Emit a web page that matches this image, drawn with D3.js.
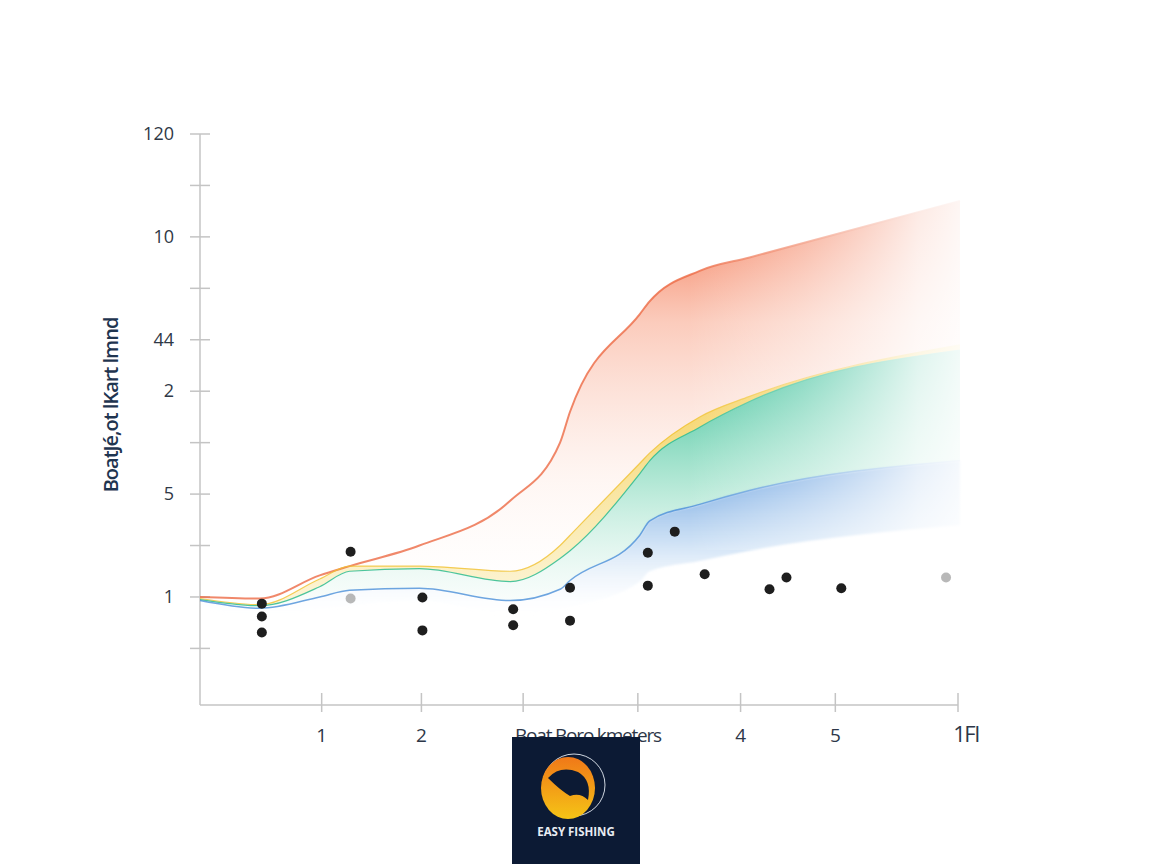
<!DOCTYPE html><html><head><meta charset="utf-8"><script src="https://cdn.jsdelivr.net/npm/d3@7"></script>
<style>body{margin:0;background:#fff}svg{display:block}</style></head><body><svg id="c" width="1152" height="864"></svg>
<script>
const yTickVals=[1,2,3,4,5,6,7,8,9,10,11];
const yTickLabels=["","1","","5","","2","44","","10","","120"];
const xTickVals=[1.22,2.22,3.24,4.39,5.42,6.37,7.6];
const xTickLabels=["1","2","","","4","5","1FI"];
const curveX=[0,0.6,1.2,1.5,2.2,3.11,3.61,3.71,4.41,4.51,5.01,5.51,7.62];
const redTop=[2.0,1.97,2.42,2.6,3.0,3.87,5.0,5.6,7.5,7.75,8.34,8.6,9.7];
const yellowTop=[1.97,1.85,2.35,2.6,2.6,2.5,3.0,3.2,4.6,4.8,5.5,5.9,6.9];
const greenTop=[1.95,1.83,2.2,2.5,2.55,2.3,2.75,2.9,4.4,4.65,5.3,5.8,6.8];
const blueTop=[1.93,1.78,2.0,2.13,2.17,1.93,2.15,2.32,3.2,3.48,3.8,4.07,4.65];
const blueBottom=[1.85,1.54,1.75,1.83,1.93,1.65,1.75,1.8,2.3,2.5,2.7,2.9,3.4];
const ptsX=[0.62,0.62,0.62,1.51,1.51,2.23,2.23,3.14,3.14,3.71,3.71,4.49,4.49,4.76,5.06,5.71,5.88,6.43,7.48];
const ptsY=[1.87,1.62,1.31,2.88,1.97,1.99,1.35,1.76,1.45,2.18,1.54,2.86,2.22,3.27,2.44,2.15,2.38,2.17,2.38];
const ptsFaint=[0,0,0,0,1,0,0,0,0,0,0,0,0,0,0,0,0,0,1];

const svg=d3.select("#c");
const x=d3.scaleLinear().domain([0,7.6]).range([200,958]);
const y=d3.scaleLinear().domain([-0.1,11]).range([705,134]);
const defs=svg.append("defs");
function vgrad(id,stops){const g=defs.append("linearGradient").attr("id",id).attr("x1",0).attr("y1",0).attr("x2",0).attr("y2",1);stops.forEach(s=>g.append("stop").attr("offset",s[0]).attr("stop-color",s[1]).attr("stop-opacity",s[2]));}
vgrad("gRed",[[0,"#f06238",0.95],[0.3,"#f8a185",0.55],[0.7,"#fde3d9",0.3],[1,"#ffffff",0.1]]);
vgrad("gYel",[[0,"#f2c230",0.9],[1,"#f7de7a",0.3]]);
vgrad("gGreen",[[0,"#14b386",0.95],[0.5,"#6fd3b0",0.55],[1,"#e8f7f1",0.2]]);
vgrad("gBlue",[[0,"#3a82d6",0.85],[0.5,"#8fbbe9",0.45],[1,"#ffffff",0]]);
const hm=defs.append("linearGradient").attr("id","hm").attr("x1",0).attr("x2",1).attr("y1",0).attr("y2",0);
[[0,0],[0.4,0.4],[0.8,0.85],[1,0.97]].forEach(s=>hm.append("stop").attr("offset",s[0]).attr("stop-color","#fff").attr("stop-opacity",s[1]));
defs.append("filter").attr("id","blur").append("feGaussianBlur").attr("stdDeviation",1.2);

// axes
const ax=svg.append("g").attr("stroke","#c4c4c4").attr("stroke-width",1.5);
ax.append("line").attr("x1",200).attr("x2",200).attr("y1",134).attr("y2",705);
yTickVals.forEach(v=>ax.append("line").attr("x1",190).attr("x2",210).attr("y1",y(v)).attr("y2",y(v)));
yTickVals.forEach((v,i)=>svg.append("text").attr("x",174).attr("y",y(v)+6).attr("text-anchor","end").attr("font-family","Open Sans").attr("font-size",18).attr("fill","#2f3846").text(yTickLabels[i]));
svg.append("text").attr("transform","translate(118,405) rotate(-90)").attr("text-anchor","middle").attr("font-family","Open Sans").attr("font-weight",600).attr("font-size",20).attr("letter-spacing",-1).attr("fill","#1f3550").text("BoatJé,ot lKart lmnd");

// areas
const g=svg.append("g");
function area(top,bot,fill,f){const p=g.append("path").attr("d",d3.area().curve(d3.curveMonotoneX).x((d,i)=>x(curveX[i])).y0((d,i)=>y(bot[i])).y1((d,i)=>y(top[i]))(curveX)).attr("fill",fill);if(f)p.attr("filter","url(#blur)");}
function line(arr,col,w){g.append("path").attr("d",d3.line().curve(d3.curveMonotoneX).x((d,i)=>x(curveX[i])).y((d,i)=>y(arr[i]))(curveX)).attr("fill","none").attr("stroke",col).attr("stroke-width",w).attr("stroke-opacity",0.8);}
area(redTop,yellowTop,"url(#gRed)");
area(yellowTop,greenTop,"url(#gYel)");
area(greenTop,blueTop,"url(#gGreen)");
area(blueTop,blueBottom,"url(#gBlue)",true);
line(redTop,"#ec6a45",2);line(yellowTop,"#f0c030",1.2);line(greenTop,"#22b889",1.2);line(blueTop,"#4a8fd8",1.5);
// fade overlay on the right
svg.append("rect").attr("x",x(4.9)).attr("y",150).attr("width",975-x(4.9)).attr("height",400).attr("fill","url(#hm)");

const ax2=svg.append("g").attr("stroke","#c4c4c4").attr("stroke-width",1.5);
ax2.append("line").attr("x1",200).attr("x2",958).attr("y1",705).attr("y2",705);
xTickVals.forEach(v=>ax2.append("line").attr("x1",x(v)).attr("x2",x(v)).attr("y1",693).attr("y2",712));
xTickVals.forEach((v,i)=>svg.append("text").attr("x",x(v)+(i==6?8:0)).attr("y",742).attr("text-anchor","middle").attr("font-family","Open Sans").attr("font-size",i==6?22:19).attr("letter-spacing",i==6?-1.5:0).attr("fill","#2d3748").text(xTickLabels[i]));
svg.append("text").attr("x",588).attr("y",742).attr("text-anchor","middle").attr("font-family","Open Sans").attr("font-size",19).attr("letter-spacing",-1.2).attr("fill","#2d3748").text("Boat Boro kmeters");

svg.append("g").selectAll("circle").data(ptsX).join("circle").attr("cx",d=>x(d)).attr("cy",(d,i)=>y(ptsY[i])).attr("r",5).attr("fill",(d,i)=>ptsFaint[i]?"#9a9a9a":"#1e1e1e").attr("opacity",(d,i)=>ptsFaint[i]?0.7:1);

const L=svg.append("g");
L.append("rect").attr("x",512).attr("y",737).attr("width",128).attr("height",127).attr("fill","#0c1a34");
vgrad("gLogo",[[0,"#f07818",1],[1,"#f5c416",1]]);
L.append("ellipse").attr("cx",574).attr("cy",785).attr("rx",31).attr("ry",31).attr("fill","none").attr("stroke","#cfd6e0").attr("stroke-width",1);
L.append("ellipse").attr("cx",568).attr("cy",788).attr("rx",27).attr("ry",31).attr("fill","url(#gLogo)");
L.append("path").attr("d","M548,778 Q560,765 578,772 Q592,780 588,800 Q580,792 570,796 Q560,790 548,778Z").attr("fill","#0c1a34");
L.append("text").attr("x",576).attr("y",836).attr("text-anchor","middle").attr("font-family","Open Sans").attr("font-weight",700).attr("font-size",11.5).attr("fill","#e8ecf2").text("EASY FISHING");
</script></body></html>
